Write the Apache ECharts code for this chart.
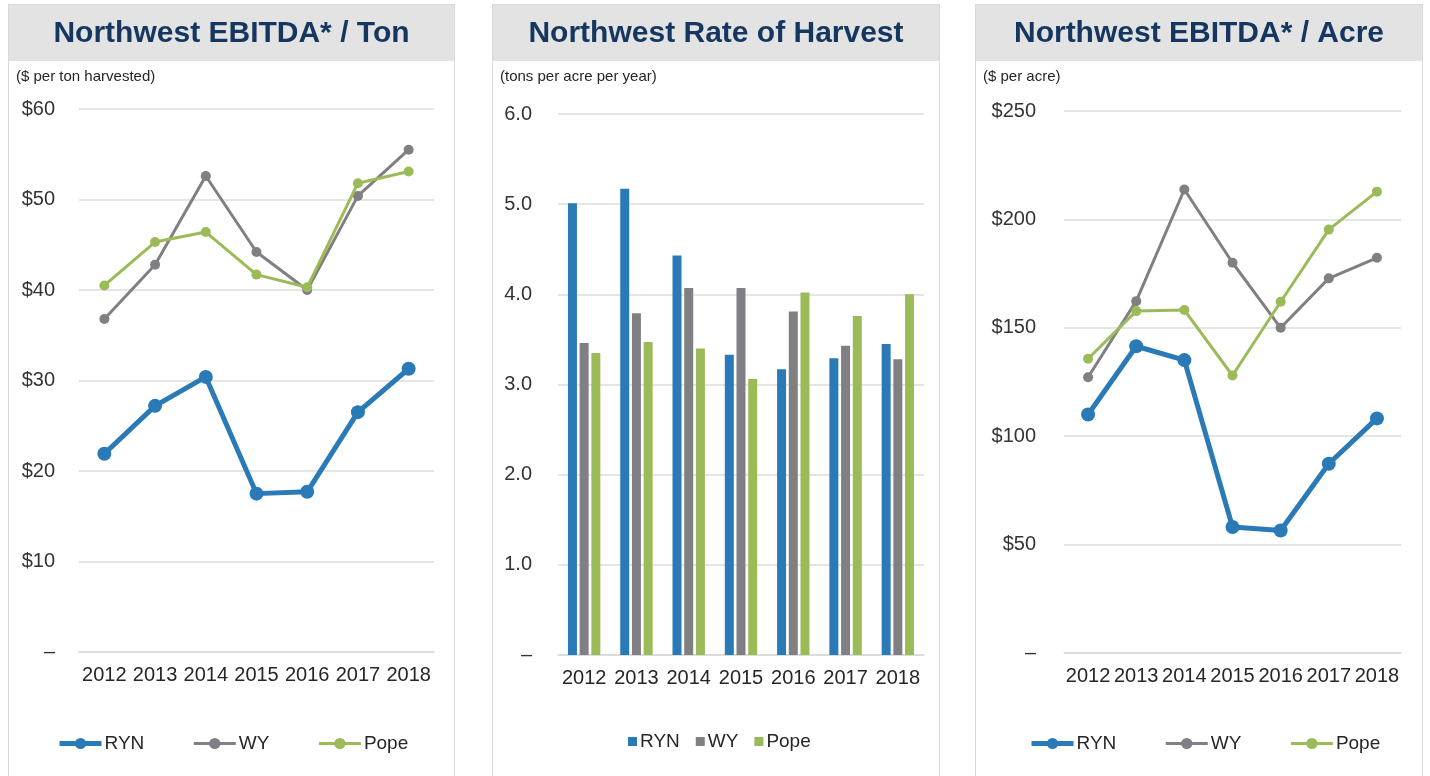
<!DOCTYPE html>
<html>
<head>
<meta charset="utf-8">
<script src="https://cdn.jsdelivr.net/npm/echarts@6/dist/echarts.min.js"></script>
<style>
  html, body { margin: 0; padding: 0; background: #ffffff; width: 1430px; height: 776px; overflow: hidden; }
  .panel { position: absolute; top: 4px; height: 790px; border: 1px solid #d9d9d9; background: #fff; box-sizing: border-box; }
</style>
</head>
<body>
<div id="p1" class="panel" style="left:8px;width:447px;"></div>
<div id="p2" class="panel" style="left:492px;width:448px;"></div>
<div id="p3" class="panel" style="left:975px;width:448px;"></div>
<script>
// ---- Data ----
const years = ['2012', '2013', '2014', '2015', '2016', '2017', '2018'];
const seriesNames = ['RYN', 'WY', 'Pope'];

// Northwest EBITDA* / Ton ($ per ton harvested)
const tonRYN  = [21.9, 27.2, 30.4, 17.5, 17.7, 26.5, 31.3];
const tonWY   = [36.8, 42.8, 52.6, 44.2, 40.0, 50.4, 55.5];
const tonPope = [40.5, 45.3, 46.4, 41.7, 40.3, 51.8, 53.1];

// Northwest Rate of Harvest (tons per acre per year)
const rateRYN  = [5.01, 5.17, 4.43, 3.33, 3.17, 3.29, 3.45];
const rateWY   = [3.46, 3.79, 4.07, 4.07, 3.81, 3.43, 3.28];
const ratePope = [3.35, 3.47, 3.40, 3.06, 4.02, 3.76, 4.00];

// Northwest EBITDA* / Acre ($ per acre)
const acreRYN  = [110.0, 141.5, 135.1, 58.1, 56.5, 87.3, 108.2];
const acreWY   = [127.2, 162.3, 213.8, 180.0, 150.0, 172.8, 182.3];
const acrePope = [135.7, 157.7, 158.2, 128.0, 162.0, 195.3, 212.8];

// Tick settings
const tonAxis  = { max: 60, interval: 10 };
const rateAxis = { max: 6, interval: 1 };
const acreAxis = { max: 250, interval: 50 };

const titles = ['Northwest EBITDA* / Ton', 'Northwest Rate of Harvest', 'Northwest EBITDA* / Acre'];
const subtitles = ['($ per ton harvested)', '(tons per acre per year)', '($ per acre)'];

// ---- Styles ----
const COLORS = { RYN: '#2a7ab8', WY: '#808084', Pope: '#9bbb59' };
const FONT = '"Liberation Sans", Arial, sans-serif';
const TITLE_COLOR = '#15365f';

function band(width) {
  return [{
    type: 'rect', left: 0, top: 0, silent: true,
    shape: { width: width, height: 56 },
    style: { fill: '#e3e3e3' }
  }];
}

function baseOption(idx, width, grid, yAxisCfg, fmt) {
  return {
    animation: false,
    graphic: band(width),
    title: [
      { text: titles[idx], left: 'center', top: 9,
        textStyle: { fontFamily: FONT, fontSize: 30, fontWeight: 'bold', color: TITLE_COLOR } },
      { text: subtitles[idx], left: 2, top: 59,
        textStyle: { fontFamily: FONT, fontSize: 15, fontWeight: 'normal', color: '#262626' } }
    ],
    grid: grid,
    xAxis: {
      type: 'category', data: years, boundaryGap: true,
      axisLine: { lineStyle: { color: '#d9d9d9', width: 1.5 } },
      axisTick: { show: false },
      axisLabel: { fontFamily: FONT, fontSize: 20, color: '#262626', margin: 13, interval: 0 }
    },
    yAxis: {
      type: 'value', min: 0, max: yAxisCfg.max, interval: yAxisCfg.interval,
      axisLine: { show: false }, axisTick: { show: false },
      splitLine: { lineStyle: { color: '#dcdcdc', width: 1.5 } },
      axisLabel: { fontFamily: FONT, fontSize: 20, color: '#333', margin: yAxisCfg.margin, formatter: fmt }
    }
  };
}

function lineSeries(name, data) {
  const big = name === 'RYN';
  return {
    name: name, type: 'line', data: data, symbol: 'circle',
    symbolSize: big ? 14 : 10,
    lineStyle: { width: big ? 5 : 3, color: COLORS[name] },
    itemStyle: { color: COLORS[name] },
    z: big ? 3 : (name === 'Pope' ? 2 : 1)
  };
}

function lineLegend(left) {
  return {
    left: left, top: 724, itemWidth: 42, itemHeight: 14, itemGap: 48,
    data: seriesNames.map(n => ({
      name: n,
      lineStyle: { width: n === 'RYN' ? 5 : 3, color: COLORS[n] },
      itemStyle: { color: COLORS[n] }
    })),
    textStyle: { fontFamily: FONT, fontSize: 19, color: '#262626', padding: [0, 0, 0, -2] }
  };
}

// Panel 1
const c1 = echarts.init(document.getElementById('p1'), null, { width: 445, height: 788 });
const o1 = baseOption(0, 447, { left: 70, top: 104, width: 355, height: 543 },
  Object.assign({ margin: 24 }, tonAxis), v => v === 0 ? '–' : '$' + v);
o1.legend = lineLegend(43);
o1.series = [lineSeries('WY', tonWY), lineSeries('Pope', tonPope), lineSeries('RYN', tonRYN)];
c1.setOption(o1);

// Panel 2
const c2 = echarts.init(document.getElementById('p2'), null, { width: 446, height: 788 });
const o2 = baseOption(1, 448, { left: 65, top: 109, width: 366, height: 541 },
  Object.assign({ margin: 26 }, rateAxis), v => v === 0 ? '–' : v.toFixed(1));
o2.legend = {
  left: 130, top: 722, icon: 'rect', itemWidth: 9, itemHeight: 9, itemGap: 16,
  data: seriesNames,
  textStyle: { fontFamily: FONT, fontSize: 19, color: '#262626', padding: [0, 0, 0, -2] }
};
o2.series = [
  { name: 'RYN', type: 'bar', data: rateRYN, barWidth: 9, barGap: '30%', itemStyle: { color: COLORS.RYN } },
  { name: 'WY', type: 'bar', data: rateWY, barWidth: 9, barGap: '30%', itemStyle: { color: COLORS.WY } },
  { name: 'Pope', type: 'bar', data: ratePope, barWidth: 9, barGap: '30%', itemStyle: { color: COLORS.Pope } }
];
c2.setOption(o2);

// Panel 3
const c3 = echarts.init(document.getElementById('p3'), null, { width: 446, height: 788 });
const o3 = baseOption(2, 448, { left: 88, top: 106, width: 337, height: 542 },
  Object.assign({ margin: 28 }, acreAxis), v => v === 0 ? '–' : '$' + v);
o3.legend = lineLegend(48);
o3.series = [lineSeries('WY', acreWY), lineSeries('Pope', acrePope), lineSeries('RYN', acreRYN)];
c3.setOption(o3);
</script>
</body>
</html>
